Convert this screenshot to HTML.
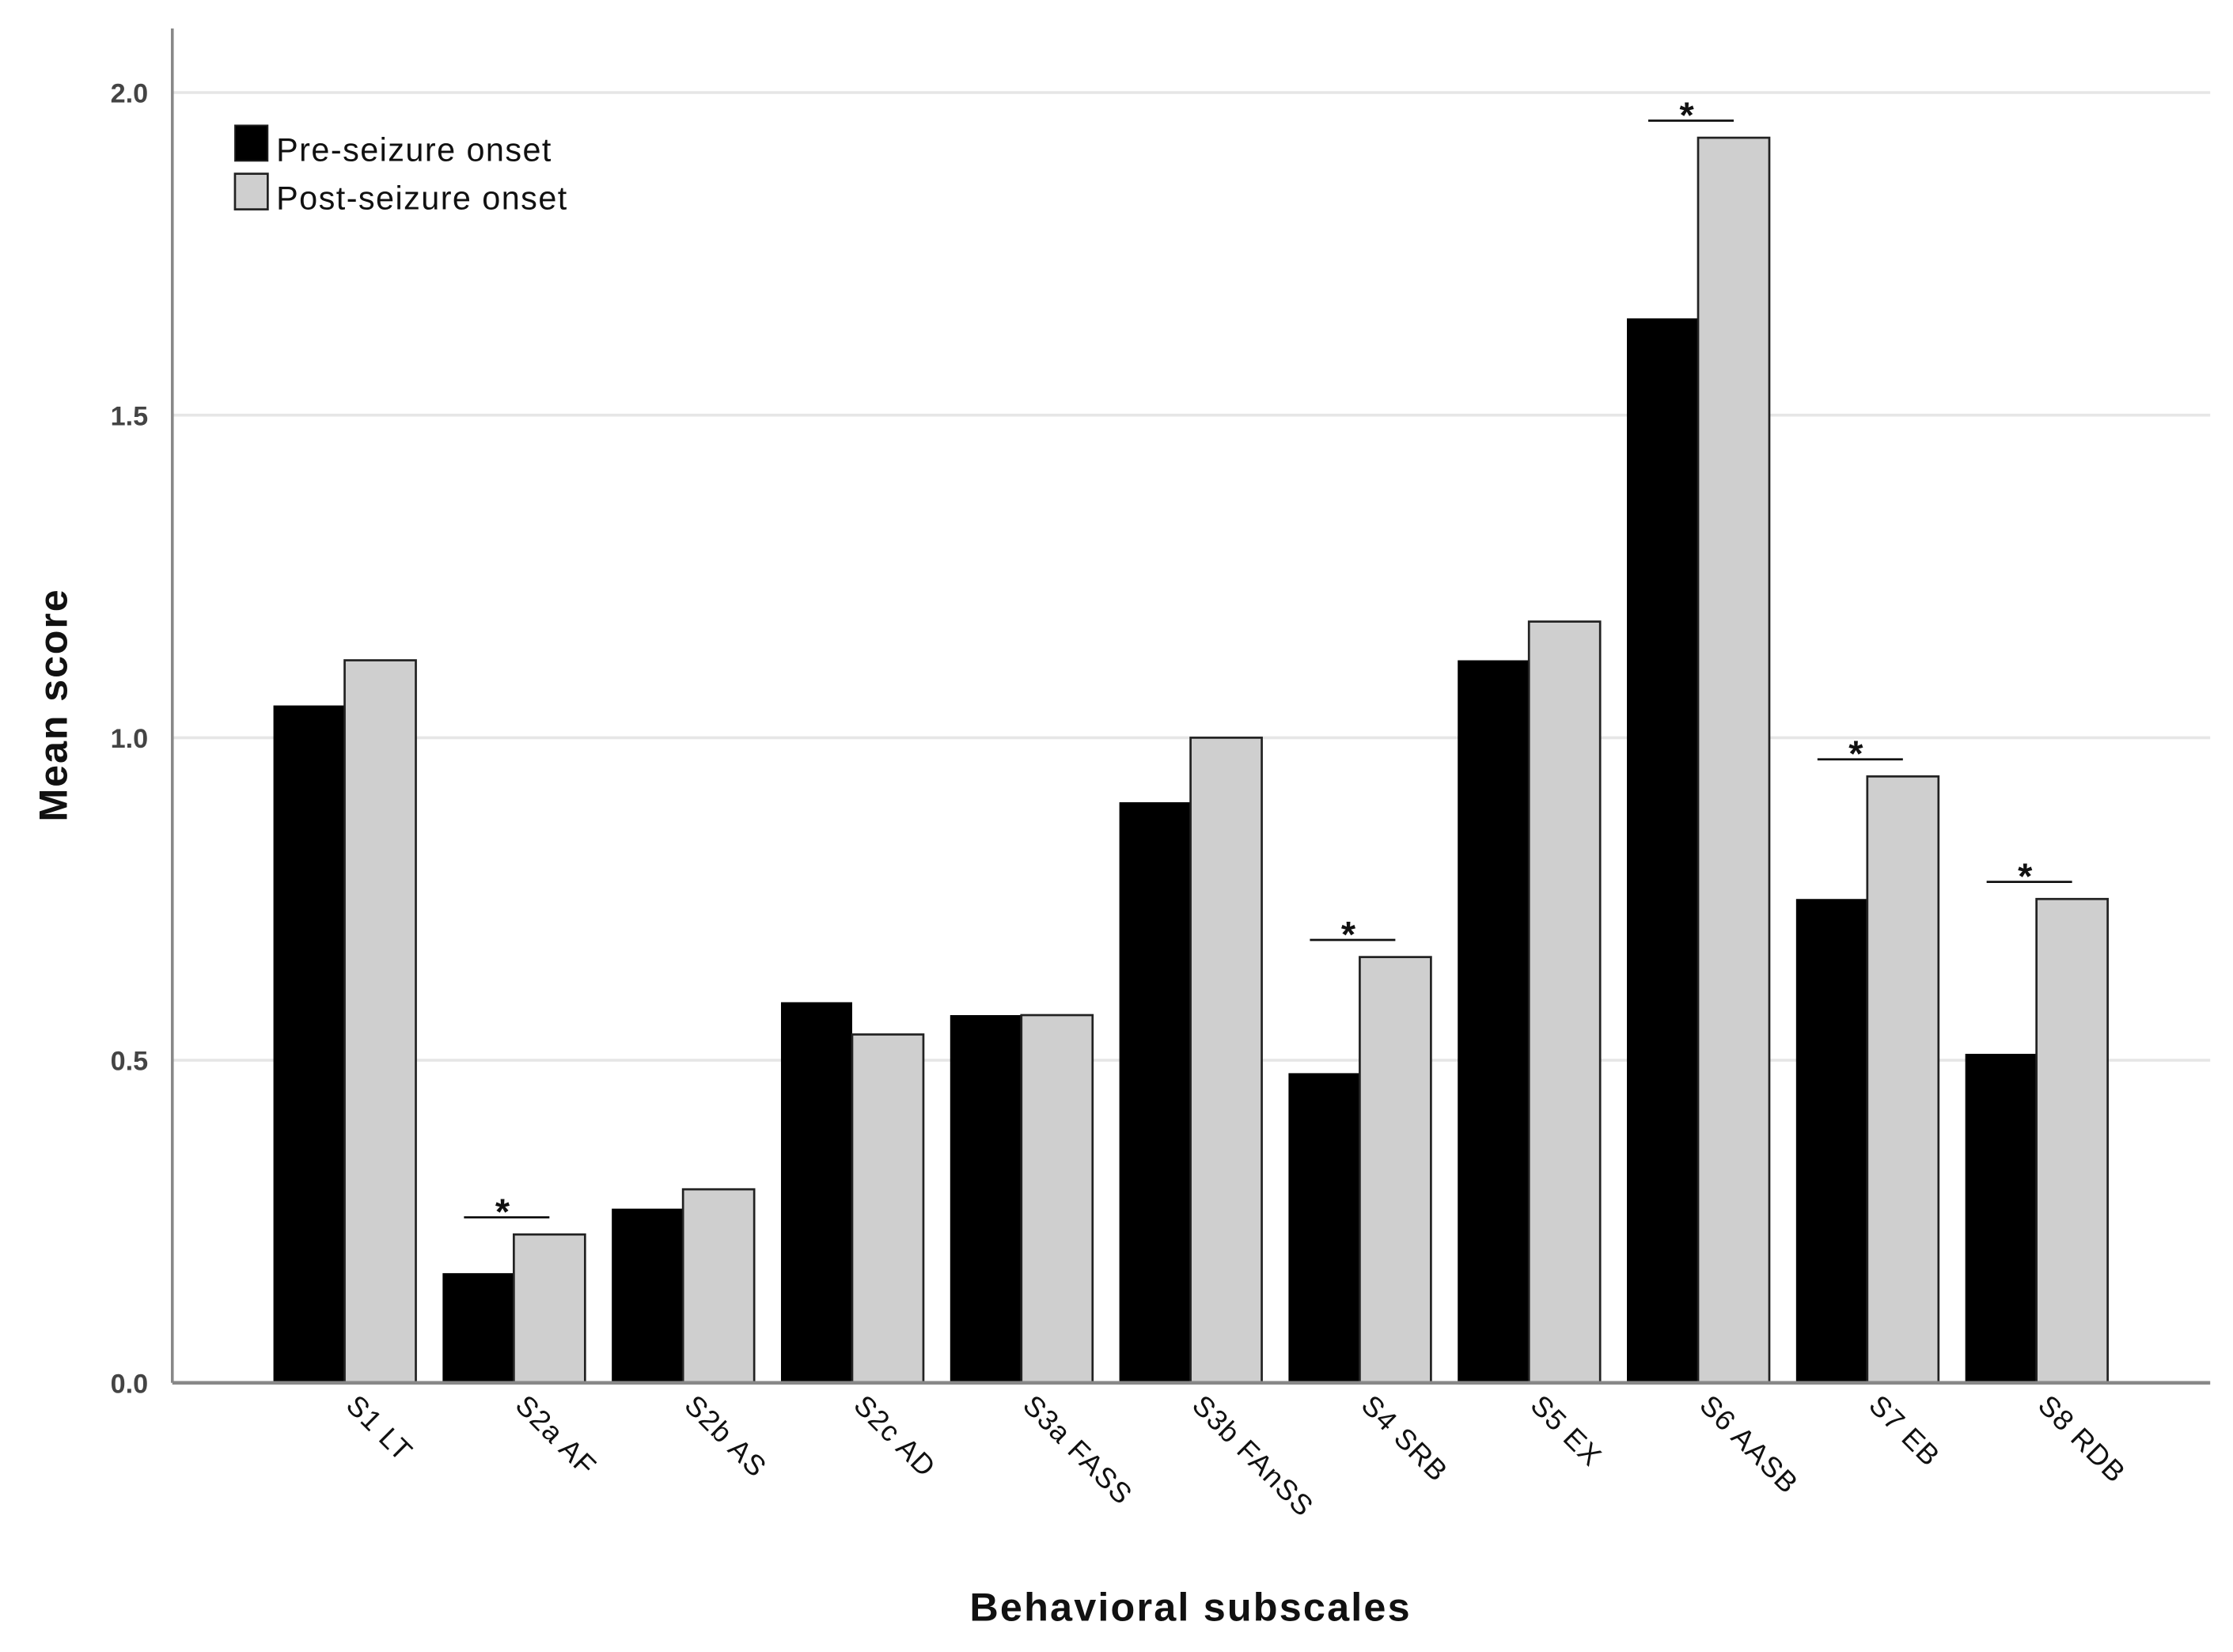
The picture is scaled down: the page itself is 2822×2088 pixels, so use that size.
<!DOCTYPE html>
<html><head><meta charset="utf-8"><style>
html,body{margin:0;padding:0;background:#fff;}
svg{display:block;}
text{font-family:"Liberation Sans",Arial,sans-serif;}
</style></head><body>
<svg id="chart" width="2822" height="2088" viewBox="0 0 1568 1160" preserveAspectRatio="none" xmlns="http://www.w3.org/2000/svg">
<g id="grid"></g>
<g id="bars"></g>
<g id="sig"></g>
<g id="axes"></g>
<g id="legend">
  <rect x="165" y="88" width="23" height="25" fill="#000" stroke="#222" stroke-width="1"/>
  <text x="194" y="113" font-size="23" letter-spacing="0.8" fill="#111">Pre-seizure onset</text>
  <rect x="165" y="122" width="23" height="25" fill="#cfcfcf" stroke="#222" stroke-width="1.5"/>
  <text x="194" y="147" font-size="23" letter-spacing="0.8" fill="#111">Post-seizure onset</text>
</g>
<text transform="translate(47,495) rotate(-90)" text-anchor="middle" font-size="28" letter-spacing="1" font-weight="bold" fill="#111">Mean score</text>
<text x="836" y="1138" text-anchor="middle" font-size="28" letter-spacing="1.2" font-weight="bold" fill="#111">Behavioral subscales</text>
</svg>
<script>
const categories = ["S1 LT","S2a AF","S2b AS","S2c AD","S3a FASS","S3b FAnSS","S4 SRB","S5 EX","S6 AASB","S7 EB","S8 RDB"];
const preValues = [1.05,0.17,0.27,0.59,0.57,0.90,0.48,1.12,1.65,0.75,0.51];
const postValues = [1.12,0.23,0.30,0.54,0.57,1.00,0.66,1.18,1.93,0.94,0.75];
const significant = [false,true,false,false,false,false,true,false,true,true,true];
const yTicks = [0.0,0.5,1.0,1.5,2.0];
const yTickLabels = ["0.0","0.5","1.0","1.5","2.0"];

const NS = "http://www.w3.org/2000/svg";
const x0 = 121, xEnd = 1552, yBase = 971, pxPerUnit = 453;
const firstBar = 192, groupStep = 118.8, barW = 50;
function yScale(v){ return yBase - v * pxPerUnit; }
function groupX(i){ return firstBar + i * groupStep; }
function mk(tag, attrs, parent){ const e=document.createElementNS(NS,tag); for(const k in attrs) e.setAttribute(k,attrs[k]); parent.appendChild(e); return e; }

const grid=document.getElementById('grid'), bars=document.getElementById('bars'), sig=document.getElementById('sig'), axes=document.getElementById('axes');

yTicks.forEach((t,i)=>{
  if(t>0){
    const g = mk('line',{x1:x0,x2:xEnd,y1:yScale(t),y2:yScale(t),stroke:'#e6e6e6','stroke-width':2},grid);
    
    
  }
  const lb = mk('text',{x:104,y:yScale(t)+7,'text-anchor':'end','font-size':19,'font-weight':'bold',fill:'#444'},axes);
  lb.textContent = yTickLabels[i];
  
  
});

categories.forEach((c,i)=>{
  const gx = groupX(i);
  const b1 = mk('rect',{x:gx,y:yScale(preValues[i]),width:barW,height:preValues[i]*pxPerUnit,fill:'#000'},bars);
  
  
  const b2 = mk('rect',{x:gx+barW,y:yScale(postValues[i]),width:barW,height:postValues[i]*pxPerUnit,fill:'#cfcfcf',stroke:'#222','stroke-width':1.5},bars);
  
  
  const lx = gx+barW;
  const t = mk('text',{transform:`translate(${lx},988) rotate(45)`,'font-size':20,'letter-spacing':0.8,fill:'#111'},axes);
  t.textContent = c;
  
  
  if(significant[i]){
    const cx = gx+barW-5;
    const ly = yScale(postValues[i]) - 12;
    const l = mk('line',{x1:cx-30,x2:cx+30,y1:ly,y2:ly,stroke:'#111','stroke-width':1.5},sig);
    
    
    const s = mk('text',{x:cx-3,y:ly+5,'text-anchor':'middle','font-size':26,'font-weight':'bold',fill:'#111'},sig);
    s.textContent='*';
    
    
  }
});

const ya = mk('line',{x1:x0,x2:x0,y1:20,y2:yBase,stroke:'#888','stroke-width':2},axes);


const xa = mk('line',{x1:x0,x2:xEnd,y1:yBase,y2:yBase,stroke:'#888','stroke-width':2.5},axes);


</script>
</body></html>
